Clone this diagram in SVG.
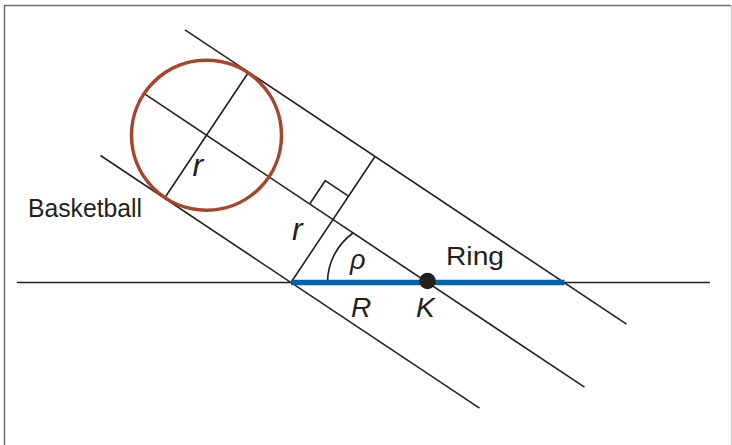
<svg xmlns="http://www.w3.org/2000/svg" width="732" height="445" viewBox="0 0 732 445">
<style>
.ln{stroke:#231f20;stroke-width:1.6;fill:none;}
.lbl{font-family:"Liberation Sans",Arial,sans-serif;fill:#231f20;}
.math{font-family:"Liberation Sans",Arial,sans-serif;font-style:italic;fill:#231f20;}
</style>
<rect width="732" height="445" fill="#ffffff"/>
<g id="frame">
<path d="M4.5,445 V5.5 H731" fill="none" stroke="#6d6d6d" stroke-width="1.5"/>
<path d="M731.5,5.5 V445" fill="none" stroke="#c8c8c8" stroke-width="1.2"/>
</g>
<g id="connectors">
<line class="ln" x1="17" y1="282.5" x2="710" y2="282.5"/>
<line class="ln" x1="100.5" y1="155.5" x2="479.5" y2="408.2"/>
<line class="ln" x1="145" y1="94.2" x2="584.5" y2="387.2"/>
<line class="ln" x1="185" y1="29.8" x2="626.5" y2="324.2"/>
<line class="ln" x1="164.5" y1="198.2" x2="248.5" y2="72.2"/>
<line class="ln" x1="291" y1="282.5" x2="375" y2="156.5"/>
<polyline class="ln" points="309.7,204 325.2,180.7 348.5,196.2"/>
<path class="ln" d="M327.5,282.5 A61.5,61.5 0 0 1 353,233"/>
</g>
<g id="ring">
<line x1="291" y1="282.5" x2="564.5" y2="282.5" stroke="#0062a8" stroke-width="5.5"/>
<text class="lbl" x="446" y="264.5" font-size="26" textLength="58" lengthAdjust="spacingAndGlyphs">Ring</text>
</g>
<g id="basketball">
<circle cx="206.5" cy="135.2" r="75" fill="none" stroke="#a5452a" stroke-width="3.5"/>
<text class="lbl" x="28" y="216.5" font-size="25" textLength="114" lengthAdjust="spacingAndGlyphs">Basketball</text>
</g>
<g id="K">
<circle cx="427.5" cy="281" r="8.3" fill="#231f20"/>
<text class="math" x="416" y="316.5" font-size="28">K</text>
</g>
<g id="labels">
<text class="math" x="351" y="316.5" font-size="28">R</text>
<text class="math" x="350" y="268.5" font-size="27">ρ</text>
<text class="math" x="192.5" y="176" font-size="32">r</text>
<text class="math" x="292" y="240" font-size="32">r</text>
</g>
</svg>
